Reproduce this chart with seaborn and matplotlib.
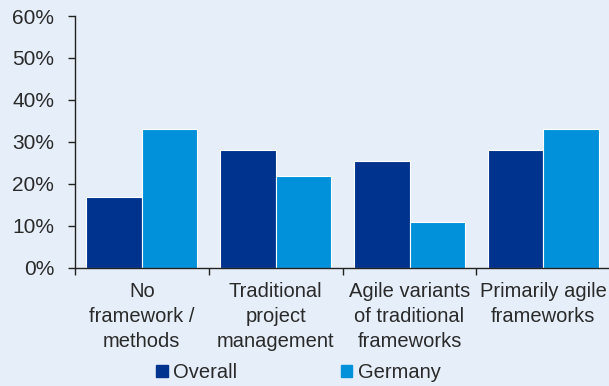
import pandas as pd
import matplotlib.pyplot as plt
import seaborn as sns

# values (percent)
categories = ["No\nframework /\nmethods", "Traditional\nproject\nmanagement",
              "Agile variants\nof traditional\nframeworks", "Primarily agile\nframeworks"]
overall = [17, 28, 25.5, 28]
germany = [33, 22, 11, 33]
series = ["Overall", "Germany"]
colors = ["#00338D", "#0091DA"]
bg = "#E6EFF9"

df = pd.DataFrame({
    "category": categories * 2,
    "value": overall + germany,
    "series": [series[0]] * 4 + [series[1]] * 4,
})

sns.set_style("white")
plt.rcParams["font.family"] = ["Liberation Sans", "DejaVu Sans"]

fig = plt.figure(figsize=(6.09, 3.86), dpi=100, facecolor=bg)
ax = fig.add_axes([0.123, 0.306, 0.877, 0.6525], facecolor=bg)

sns.barplot(data=df, x="category", y="value", hue="series", palette=colors,
            saturation=1, width=0.83, edgecolor="white", linewidth=0.8,
            ax=ax, legend=False)

ax.set_xlim(-0.5, 3.49)
ax.set_ylim(0, 60)
ax.set_yticks(range(0, 61, 10))
ax.set_yticklabels([f"{v}%" for v in range(0, 61, 10)])
ax.set_xlabel("")
ax.set_ylabel("")

for s in ["top", "right"]:
    ax.spines[s].set_visible(False)
for s in ["left", "bottom"]:
    ax.spines[s].set_color("#222222")
    ax.spines[s].set_linewidth(1.0)

ax.tick_params(axis="y", which="major", left=True, length=5, width=1,
               color="#222222", labelsize=15, labelcolor="#2a2a2a", pad=10)
ax.tick_params(axis="x", which="major", bottom=False, length=0,
               labelsize=14.5, labelcolor="#2a2a2a", pad=10)
ax.set_xticks([-0.5, 0.5, 1.5, 2.5], minor=True)
ax.tick_params(axis="x", which="minor", bottom=True, length=5, width=1, color="#222222")
for lbl in ax.get_xticklabels():
    lbl.set_linespacing(1.4)

handles = [plt.Rectangle((0, 0), 1, 1, color=c) for c in colors]
fig.legend(handles, series, loc="center", bbox_to_anchor=(0.49, 0.035), ncol=2,
           frameon=False, fontsize=14.5, handlelength=0.55, handleheight=0.55,
           handletextpad=0.25, columnspacing=5.2, labelcolor="#2a2a2a")

fig.savefig("out.png", dpi=100, facecolor=bg)
